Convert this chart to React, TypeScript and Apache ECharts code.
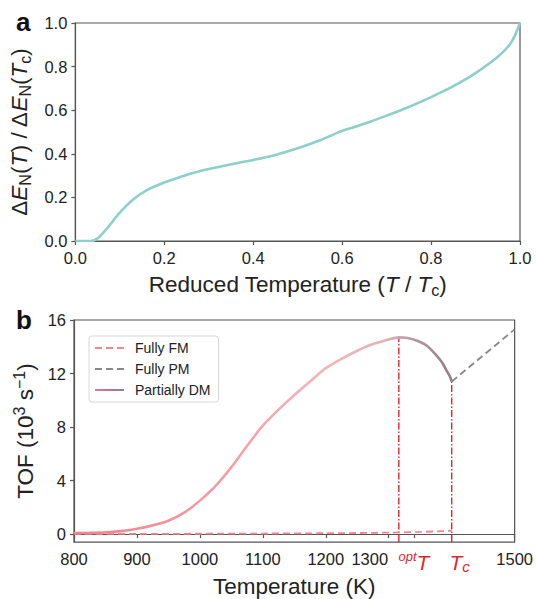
import React, { useEffect, useRef } from 'react';
import * as echarts from 'echarts';

// Panel a: reduced temperature vs normalized energy
const reducedT = [0, 0.02, 0.035, 0.05, 0.07, 0.1, 0.13, 0.16, 0.2, 0.25, 0.3, 0.35, 0.4, 0.45, 0.5, 0.55, 0.6, 0.62, 0.65, 0.7, 0.75, 0.8, 0.85, 0.9, 0.95, 0.98, 1.0];
const energyRatio = [0, 0, 0, 0.012, 0.055, 0.13, 0.19, 0.232, 0.268, 0.303, 0.33, 0.352, 0.372, 0.395, 0.425, 0.462, 0.505, 0.518, 0.538, 0.575, 0.615, 0.66, 0.71, 0.77, 0.845, 0.91, 1.0];

// Panel b: TOF vs temperature
const tempDM = [800, 825, 850, 875, 900, 925, 950, 975, 1000, 1025, 1050, 1075, 1100, 1125, 1150, 1175, 1200, 1225, 1250, 1275, 1300, 1316, 1330, 1345, 1360, 1375, 1385, 1392, 1397, 1400];
const tofDM = [0.07, 0.09, 0.13, 0.22, 0.4, 0.65, 1.0, 1.6, 2.5, 3.6, 5.0, 6.6, 8.1, 9.3, 10.4, 11.4, 12.4, 13.1, 13.7, 14.2, 14.55, 14.7, 14.65, 14.45, 14.1, 13.4, 12.8, 12.2, 11.8, 11.4];
const tempFM = [800, 900, 1000, 1100, 1200, 1250, 1300, 1350, 1400];
const tofFM = [0.01, 0.015, 0.025, 0.04, 0.065, 0.08, 0.11, 0.16, 0.25];
const tempPM = [1400, 1500];
const tofPM = [11.4, 15.3];
const optTemp = 1316;
const optTof = 14.7;
const tcTemp = 1400;
const tcTof = 11.4;
const bottomXTicks = [800, 900, 1000, 1100, 1200, 1300, 1340, 1400, 1500];
const bottomYTicks = [0, 4, 8, 12, 16];

const zip = (xs: number[], ys: number[]) => xs.map((x, i) => [x, ys[i]]);

const FONT = 'Liberation Sans, Arial, Helvetica, sans-serif';
const AXIS = '#555';
const TXT = '#222';
const RED = '#e3262d';
const TICK_FS = 16.5;
const NAME_FS = 22.5;

export default function App() {
  const ref = useRef<HTMLDivElement>(null);
  useEffect(() => {
    document.body.style.margin = '0';
    const chart = echarts.init(ref.current!, undefined, { renderer: 'svg' });
    const axisCommon = {
      axisLine: { show: true, lineStyle: { color: AXIS, width: 1.2 } },
      axisTick: { show: true, length: 4, lineStyle: { color: AXIS, width: 1.2 } },
      splitLine: { show: false },
      axisLabel: { color: TXT, fontSize: TICK_FS, fontFamily: FONT, margin: 8 },
    };
    const dmStops = [
      { offset: 0, color: '#f2838c' },
      { offset: 0.35, color: '#f39aa2' },
      { offset: 0.65, color: '#f4b4b9' },
      { offset: 0.82, color: '#e4b3b7' },
      { offset: 0.9, color: '#b4979d' },
      { offset: 1, color: '#8f7f86' },
    ];
    const dmGradient = new echarts.graphic.LinearGradient(0, 0, 1, 0, dmStops);
    const legendGradient = new echarts.graphic.LinearGradient(0, 0, 29, 0, [
      { offset: 0, color: '#f06b9a' },
      { offset: 1, color: '#8f7f86' },
    ], true);
    const option: any = {
      animation: false,
      textStyle: { fontFamily: FONT },
      grid: [
        { left: 74, top: 23, width: 446, height: 218, show: true, borderColor: AXIS, borderWidth: 1.2, backgroundColor: 'transparent' },
        { left: 74, top: 320, width: 446, height: 226, show: true, borderColor: AXIS, borderWidth: 1.2, backgroundColor: 'transparent' },
      ],
      xAxis: [
        {
          ...axisCommon,
          type: 'value', gridIndex: 0, min: 0, max: 1, interval: 0.2,
          axisLabel: { ...axisCommon.axisLabel, formatter: (v: number) => v.toFixed(1) },
          name: 'Reduced Temperature ({i|T} / {i|T}{s|c})',
          nameLocation: 'middle', nameGap: 29,
          nameTextStyle: {
            color: TXT, fontSize: NAME_FS, fontFamily: FONT,
            rich: {
              i: { fontSize: NAME_FS, fontStyle: 'italic', color: TXT, fontFamily: FONT, lineHeight: 28 },
              s: { fontSize: 16, color: TXT, fontFamily: FONT, verticalAlign: 'bottom', lineHeight: 16 },
            },
          },
        },
        {
          ...axisCommon,
          type: 'value', gridIndex: 1, min: 800, max: 1500,
          axisTick: { ...axisCommon.axisTick, customValues: bottomXTicks },
          axisLabel: {
            ...axisCommon.axisLabel,
            customValues: bottomXTicks,
            formatter: (v: number) => {
              if (v === 1340) return '{sup|opt}{it|T}';
              if (v === 1400) return '{itc|T}{sub|c}';
              if (v === 1300) return '{l|1300}';
              return String(v);
            },
            rich: {
              l: { fontSize: TICK_FS, color: TXT, fontFamily: FONT, padding: [0, 38, 0, 0] },
              sup: { fontSize: 13, fontStyle: 'italic', color: RED, fontFamily: FONT, verticalAlign: 'top', lineHeight: 13 },
              it: { fontSize: 21, fontStyle: 'italic', color: RED, fontFamily: FONT, lineHeight: 24 },
              itc: { fontSize: 21, fontStyle: 'italic', color: RED, fontFamily: FONT, lineHeight: 24, padding: [0, 0, 0, 16] },
              sub: { fontSize: 15, fontStyle: 'italic', color: RED, fontFamily: FONT, verticalAlign: 'bottom', lineHeight: 13 },
            },
          },
          name: 'Temperature (K)',
          nameLocation: 'middle', nameGap: 25,
          nameTextStyle: { color: TXT, fontSize: NAME_FS, fontFamily: FONT },
        },
      ],
      yAxis: [
        {
          ...axisCommon,
          type: 'value', gridIndex: 0, min: 0, max: 1, interval: 0.2,
          axisLabel: { ...axisCommon.axisLabel, formatter: (v: number) => v.toFixed(1) },
          name: '{n|Δ}{i|E}{s|N}{n|(}{i|T}{n|) / Δ}{i|E}{s|N}{n|(}{i|T}{s|c}{n|)}',
          nameLocation: 'middle', nameRotate: 90, nameGap: 29,
          nameTextStyle: {
            color: TXT, fontSize: NAME_FS, fontFamily: FONT,
            rich: {
              n: { fontSize: NAME_FS, color: TXT, fontFamily: FONT, lineHeight: 28 },
              i: { fontSize: NAME_FS, fontStyle: 'italic', color: TXT, fontFamily: FONT, lineHeight: 28 },
              s: { fontSize: 16, color: TXT, fontFamily: FONT, verticalAlign: 'bottom', lineHeight: 16 },
            },
          },
        },
        {
          ...axisCommon,
          type: 'value', gridIndex: 1, min: -0.6, max: 16,
          axisTick: { ...axisCommon.axisTick, customValues: bottomYTicks },
          axisLabel: { ...axisCommon.axisLabel, customValues: bottomYTicks },
          name: '{n|TOF (10}{p|3}{n| s}{p|−1}{n|)}',
          nameLocation: 'middle', nameRotate: 90, nameGap: 33,
          nameTextStyle: {
            color: TXT, fontSize: NAME_FS, fontFamily: FONT,
            rich: {
              n: { fontSize: NAME_FS, color: TXT, fontFamily: FONT, lineHeight: 28 },
              p: { fontSize: 16, color: TXT, fontFamily: FONT, verticalAlign: 'top', lineHeight: 16 },
            },
          },
        },
      ],
      legend: {
        data: [
          { name: 'Fully FM' },
          { name: 'Fully PM' },
          { name: 'Partially DM', lineStyle: { color: legendGradient } },
        ],
        orient: 'vertical',
        left: 89, top: 336,
        padding: [5, 8, 5, 5],
        itemWidth: 29, itemHeight: 14, itemGap: 7,
        itemStyle: { opacity: 0 },
        borderColor: '#d8d8d8', borderWidth: 1, borderRadius: 3,
        backgroundColor: 'rgba(255,255,255,0.8)',
        textStyle: { color: TXT, fontSize: 14, fontFamily: FONT, padding: [0, 0, 0, 6] },
      },
      series: [
        {
          name: 'energy', type: 'line', xAxisIndex: 0, yAxisIndex: 0,
          data: zip(reducedT, energyRatio), smooth: 0.3, symbol: 'none',
          lineStyle: { color: '#8dcfca', width: 2.6 },
        },
        {
          name: 'optLine', type: 'line', xAxisIndex: 1, yAxisIndex: 1,
          data: [[optTemp, -0.6], [optTemp, optTof]], symbol: 'none',
          lineStyle: { color: RED, width: 1.4, type: [7, 2, 1.5, 2] }, z: 1,
        },
        {
          name: 'tcLine', type: 'line', xAxisIndex: 1, yAxisIndex: 1,
          data: [[tcTemp, -0.6], [tcTemp, tcTof]], symbol: 'none',
          lineStyle: { color: RED, width: 1.4, type: [7, 2, 1.5, 2] }, z: 1,
        },
        {
          name: 'Fully FM', type: 'line', xAxisIndex: 1, yAxisIndex: 1,
          data: zip(tempFM, tofFM), smooth: 0.3, symbol: 'none', color: '#f5848c',
          lineStyle: { color: '#f5848c', width: 1.8, type: [7, 4] }, z: 2,
        },
        {
          name: 'Fully PM', type: 'line', xAxisIndex: 1, yAxisIndex: 1,
          data: zip(tempPM, tofPM), symbol: 'none', color: '#888888',
          lineStyle: { color: '#888888', width: 1.8, type: [7, 4] }, z: 2,
        },
        {
          name: 'Partially DM', type: 'line', xAxisIndex: 1, yAxisIndex: 1,
          data: zip(tempDM, tofDM), smooth: 0.3, symbol: 'none', color: '#f07aa0',
          lineStyle: { color: dmGradient, width: 2.6 }, z: 3,
        },
      ],
      graphic: [
        { type: 'text', left: 16, top: 9, style: { text: 'a', fill: '#111', font: `bold 26px ${FONT}` } },
        { type: 'text', left: 16, top: 307, style: { text: 'b', fill: '#111', font: `bold 26px ${FONT}` } },
      ],
    };
    chart.setOption(option);
    return () => chart.dispose();
  }, []);
  return <div ref={ref} style={{ width: 536, height: 599 }} />;
}
